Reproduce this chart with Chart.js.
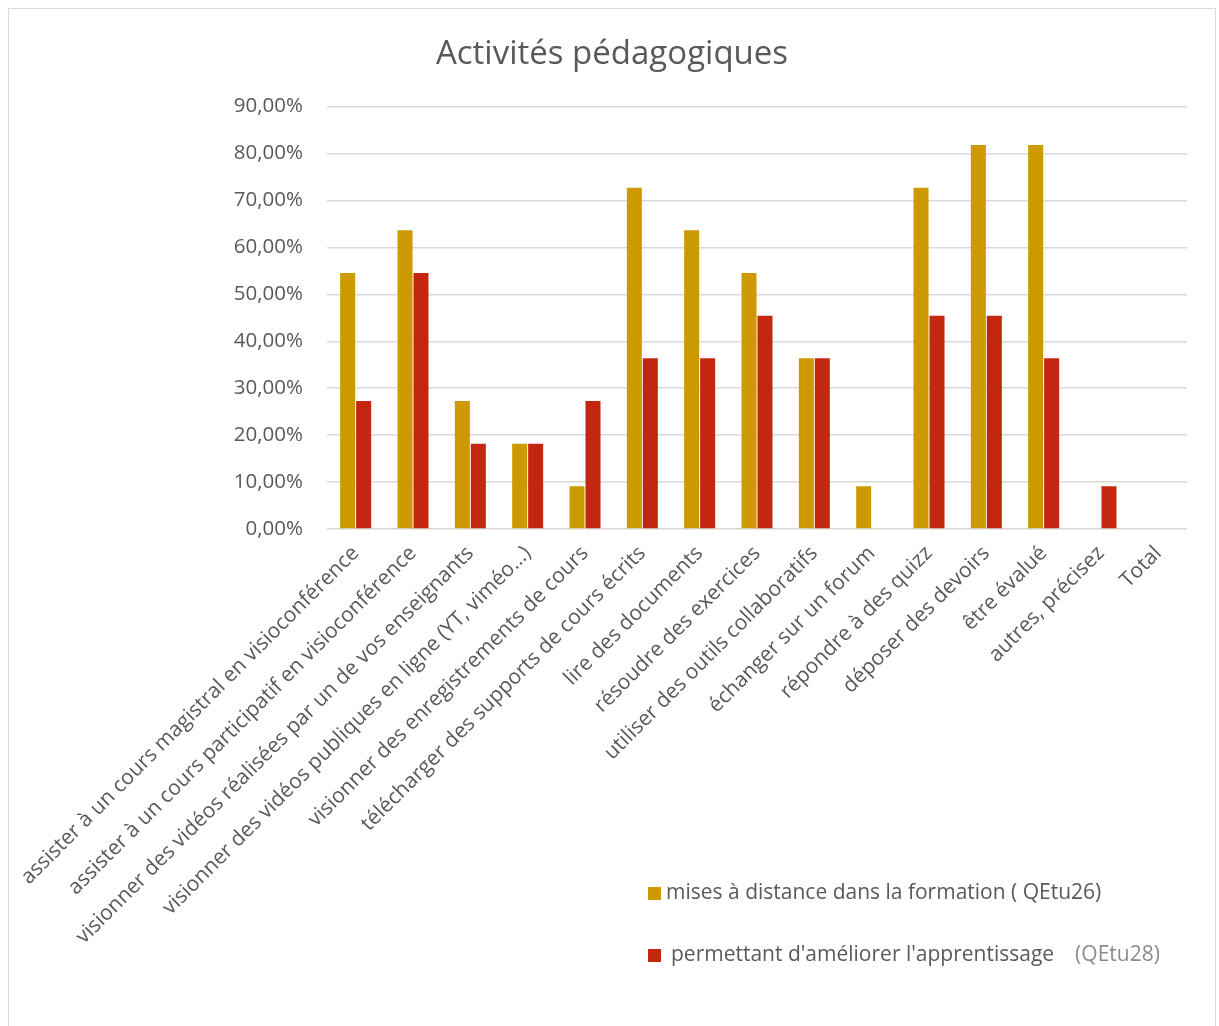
<!DOCTYPE html>
<html lang="fr">
<head>
<meta charset="utf-8">
<title>Activités pédagogiques</title>
<script src="https://cdn.jsdelivr.net/npm/chart.js@4.4.1/dist/chart.umd.min.js"></script>
<style>
  html, body { margin: 0; padding: 0; background: #fff; }
  #frame {
    position: absolute; left: 8px; top: 8px; width: 1208px; height: 1030px;
    border: 1px solid #d9d9d9; box-sizing: border-box; overflow: hidden;
  }
  #wrap { position: absolute; left: 0; top: 0; width: 1206px; height: 1018px; }
  .leg { position: absolute; font-family: "Open Sans", sans-serif; font-size: 21px; color: #595959; white-space: nowrap; }
  .leg .box { display: inline-block; width: 13px; height: 13px; vertical-align: -1px; }
  .leg .ref { color: #8c8c8c; margin-left: 21px; }
</style>
</head>
<body>
<div id="frame">
  <div id="wrap"><canvas id="chart"></canvas></div>
  <div class="leg" id="leg0" style="left:639px; top:868px;"></div>
  <div class="leg" id="leg1" style="left:639px; top:930px;"></div>
</div>
<script>
// activités (axe des x)
const activites = [
  "assister à un cours magistral en visioconférence",
  "assister à un cours participatif en visioconférence",
  "visionner des vidéos réalisées par un de vos enseignants",
  "visionner des vidéos publiques en ligne (YT, viméo…)",
  "visionner des enregistrements de cours",
  "télécharger des supports de cours écrits",
  "lire des documents",
  "résoudre des exercices",
  "utiliser des outils collaboratifs",
  "échanger sur un forum",
  "répondre à des quizz",
  "déposer des devoirs",
  "être évalué",
  "autres, précisez",
  "Total"
];

// QEtu26 : activités mises à distance dans la formation
const misesADistance = [0.5455, 0.6364, 0.2727, 0.1818, 0.0909, 0.7273, 0.6364, 0.5455, 0.3636, 0.0909, 0.7273, 0.8182, 0.8182, 0, 0];
// QEtu28 : activités permettant d'améliorer l'apprentissage
const ameliorer = [0.2727, 0.5455, 0.1818, 0.1818, 0.2727, 0.3636, 0.3636, 0.4545, 0.3636, 0, 0.4545, 0.4545, 0.3636, 0.0909, 0];

const legendeLabels = ["mises à distance dans la formation ( QEtu26)", "permettant d'améliorer l'apprentissage"];
const legendeRef = ["", "(QEtu28)"];
const legendeGap = [5, 10];
const couleurs = ["#cc9a00", "#c3270f"];

const gris = "#595959";

function pct(v) {
  return (v * 100).toFixed(2).replace(".", ",") + "%";
}

const chart = new Chart("chart", {
  type: "bar",
  data: {
    labels: activites,
    datasets: [
      { label: legendeLabels[0], data: misesADistance, backgroundColor: couleurs[0] },
      { label: legendeLabels[1], data: ameliorer, backgroundColor: couleurs[1] }
    ]
  },
  options: {
    responsive: true,
    maintainAspectRatio: false,
    animation: false,
    categoryPercentage: 0.557,
    barPercentage: 0.94,
    layout: { padding: 0 },
    plugins: {
      legend: { display: false },
      tooltip: { enabled: false },
      title: {
        display: true,
        text: "Activités pédagogiques",
        color: gris,
        font: { family: "Open Sans", size: 33, weight: "normal" },
        padding: { top: 26, bottom: 32 }
      }
    },
    scales: {
      x: {
        grid: { display: false },
        border: { display: false },
        ticks: {
          color: gris,
          font: { family: "Open Sans", size: 21 },
          minRotation: 45,
          maxRotation: 45,
          autoSkip: false,
          padding: 4
        },
        afterFit: function (scale) { scale.height = 498; }
      },
      y: {
        min: 0,
        max: 0.9,
        border: { display: false },
        grid: { color: "#d9d9d9", lineWidth: 1.5, drawTicks: false },
        ticks: {
          stepSize: 0.1,
          color: gris,
          font: { family: "Open Sans", size: 20.5 },
          padding: 24,
          callback: v => pct(v)
        },
        afterFit: function (scale) { scale.width = 318; }
      },
      // marge droite de la zone de tracé
      marge: {
        position: "right",
        display: true,
        grid: { display: false },
        border: { display: false },
        ticks: { display: false },
        afterFit: function (scale) { scale.width = 28; }
      }
    }
  }
});

// légende placée en bas à droite, comme dans le classeur
chart.data.datasets.forEach((ds, i) => {
  const el = document.getElementById("leg" + i);
  el.innerHTML = '<span class="box" style="background:' + ds.backgroundColor + ';margin-right:' + legendeGap[i] + 'px"></span>' +
    ds.label + (legendeRef[i] ? '<span class="ref">' + legendeRef[i] + '</span>' : '');
});
</script>
</body>
</html>
